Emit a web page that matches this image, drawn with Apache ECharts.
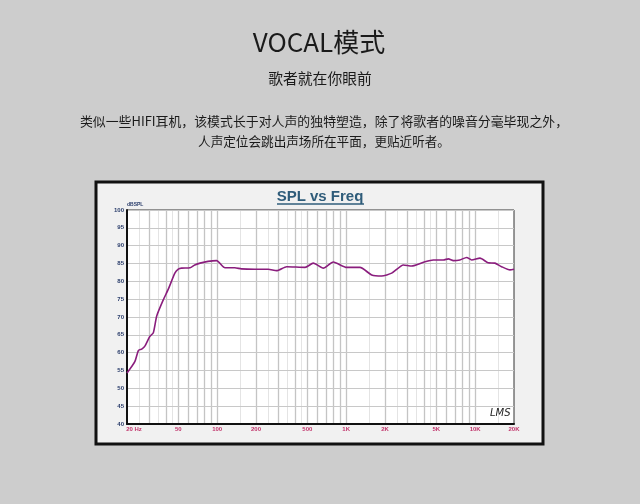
<!DOCTYPE html>
<html>
<head>
<meta charset="utf-8">
<script src="https://cdn.jsdelivr.net/npm/echarts@6/dist/echarts.min.js"></script>
<style>
html,body{margin:0;padding:0;background:#cdcdcd;}
#c{width:640px;height:504px;}
</style>
</head>
<body>
<div id="c"></div>
<script>
// Frequency response (Hz) and SPL (dB)
var freqs = [20, 23, 24.5, 26, 27.6, 30, 32, 34, 38.2, 41.8, 47, 50, 53, 61.6, 67, 73.6, 85, 99, 115, 137, 154, 196, 249, 289, 346, 480, 556, 665, 795, 1010, 1280, 1577, 1885, 2254, 2775, 3220, 4085, 4740, 5665, 6200, 6775, 7610, 8590, 9390, 10900, 12620, 14250, 16050, 18620, 20000];
var spl   = [54.3, 57.5, 60.6, 61, 61.9, 64.5, 65.6, 70.3, 74.8, 77.8, 82.3, 83.4, 83.7, 83.8, 84.6, 85.1, 85.6, 85.8, 83.8, 83.8, 83.5, 83.4, 83.4, 83, 84.1, 83.9, 85.1, 83.7, 85.4, 83.9, 83.9, 81.8, 81.5, 82.3, 84.6, 84.3, 85.5, 86, 86, 86.3, 85.8, 86, 86.7, 86, 86.5, 85.2, 85.1, 84.1, 83.2, 83.4];

// Axis ticks
var xLabelFreqs = [20, 50, 100, 200, 500, 1000, 2000, 5000, 10000, 20000];
var xLabelTexts = ['20 Hz', '50', '100', '200', '500', '1K', '2K', '5K', '10K', '20K'];
var majorGridFreqs = [30, 40, 50, 60, 70, 80, 90, 100, 200, 300, 400, 500, 600, 700, 800, 900, 1000, 2000, 3000, 4000, 5000, 6000, 7000, 8000, 9000, 10000];
var minorGridFreqs = [25, 35, 45, 150, 250, 350, 450, 1500, 2500, 3500, 4500, 15000];
var yMin = 40, yMax = 100, yStep = 5;

var chart = echarts.init(document.getElementById('c'), null, {renderer: 'canvas'});
var pts = freqs.map(function (f, i) { return [f, spl[i]]; });

function vLines(list, color, width) {
  return list.map(function (f) { return {xAxis: f, lineStyle: {color: color, width: width, type: 'solid'}}; });
}
function txt(text, x, y, font) {
  return {type: 'text', z: 10, x: x, y: y, style: {text: text, textAlign: 'center', textVerticalAlign: 'middle', font: font, fill: '#1a1a1a'}};
}

var option = {
  animation: false,
  backgroundColor: '#cdcdcd',
  title: [
    {text: 'SPL vs Freq', left: 'center', top: 184, textStyle: {fontFamily: '"Liberation Sans", Arial', fontSize: 15, fontWeight: 'bold', color: '#2f5c7a'}}
  ],
  graphic: [
    {type: 'rect', z: -10, shape: {x: 96, y: 182, width: 447, height: 262}, style: {fill: '#f1f1f1', stroke: '#111', lineWidth: 3}},
    txt('VOCAL模式', 319, 42, '26px "Noto Sans CJK SC"'),
    txt('歌者就在你眼前', 320, 78, '14.8px "Noto Sans CJK SC"'),
    txt('类似一些HIFI耳机，该模式长于对人声的独特塑造，除了将歌者的噪音分毫毕现之外，', 324, 121, '12.9px "Noto Sans CJK SC"'),
    txt('人声定位会跳出声场所在平面，更贴近听者。', 324, 141, '12.6px "Noto Sans CJK SC"'),
    {type: 'line', z: 10, shape: {x1: 277, y1: 204, x2: 364, y2: 204}, style: {stroke: '#2f5c7a', lineWidth: 1.5}},
    {type: 'text', z: 10, x: 490, y: 408, style: {text: 'LMS', font: 'italic 10px "DejaVu Sans"', fill: '#222'}}
  ],
  grid: {left: 127, top: 210, width: 387, height: 214, show: true, backgroundColor: '#ffffff', borderColor: '#333', borderWidth: 1},
  xAxis: {
    type: 'log', logBase: 10, min: 20, max: 20000, z: 10,
    axisLine: {show: true, lineStyle: {color: '#111', width: 2}},
    axisTick: {show: false}, axisLabel: {show: false}, splitLine: {show: false}
  },
  yAxis: {
    type: 'value', min: yMin, max: yMax, interval: yStep, z: 10,
    name: 'dBSPL', nameLocation: 'end', nameGap: 1,
    nameTextStyle: {fontSize: 5, fontWeight: 'bold', color: '#2a3d6b', align: 'left', padding: [0, 0, 0, 0]},
    axisLine: {show: true, lineStyle: {color: '#111', width: 2}},
    axisTick: {show: false},
    axisLabel: {fontSize: 6, fontWeight: 'bold', color: '#2a3d6b', margin: 3, fontFamily: '"Liberation Sans", Arial'},
    splitLine: {show: true, lineStyle: {color: '#c8c8c8', width: 1}}
  },
  series: [
    {
      type: 'line', data: [], silent: true, z: 1,
      markLine: {silent: true, symbol: 'none', label: {show: false}, data: vLines(minorGridFreqs, '#e4e4e4', 1)}
    },
    {
      type: 'line', data: [], silent: true, z: 1,
      markLine: {silent: true, symbol: 'none', label: {show: false}, data: vLines(majorGridFreqs, '#c4c4c4', 1.3)}
    },
    {
      type: 'line', data: [], silent: true, z: 1,
      markLine: {
        silent: true, symbol: 'none',
        lineStyle: {color: 'rgba(0,0,0,0)', width: 1},
        label: {show: true, position: 'start', distance: 2, fontSize: 6, fontWeight: 'bold', color: '#c0336a', fontFamily: '"Liberation Sans", Arial'},
        data: xLabelFreqs.map(function (f, i) {
          var o = {xAxis: f, label: {formatter: xLabelTexts[i]}};
          if (i === 0) o.label.padding = [0, 0, 0, 14];
          return o;
        })
      }
    },
    {
      type: 'line', data: pts, showSymbol: false, smooth: 0.2, z: 20,
      lineStyle: {color: '#8a1d7d', width: 1.6},
      itemStyle: {color: '#8a1d7d'}
    }
  ]
};
chart.setOption(option);
</script>
</body>
</html>
